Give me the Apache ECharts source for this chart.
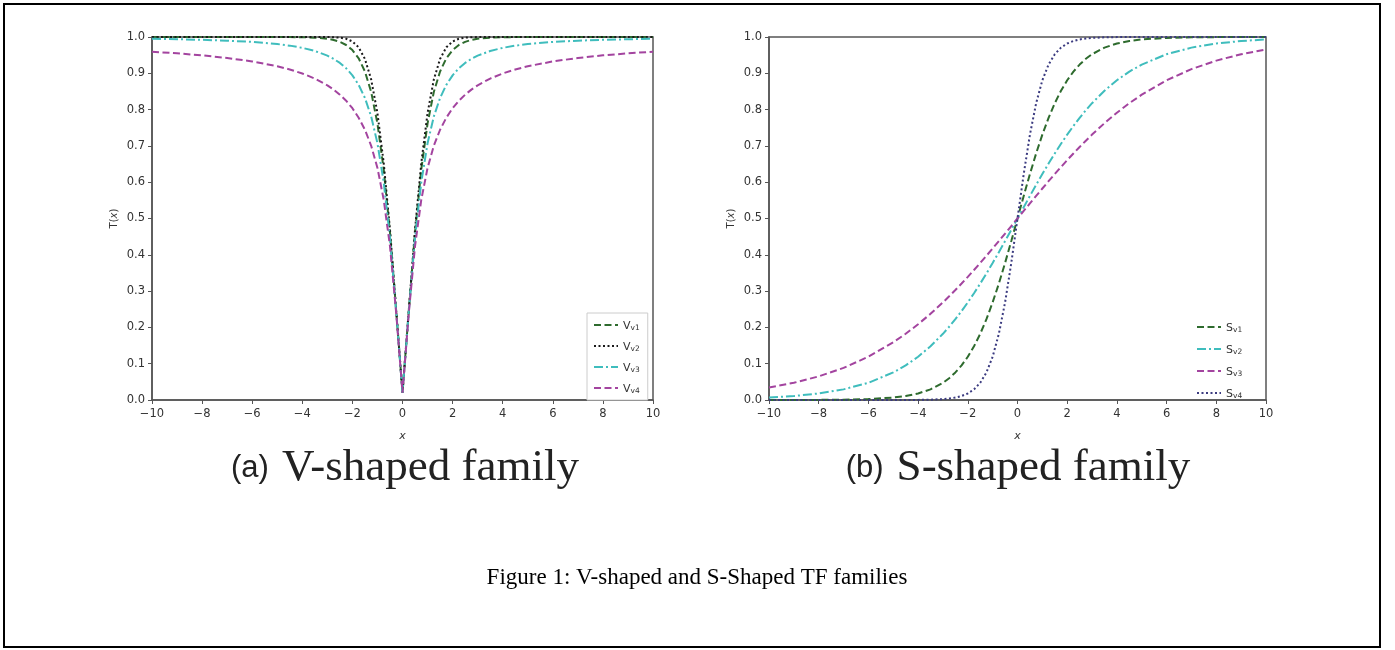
<!DOCTYPE html>
<html><head><meta charset="utf-8">
<script src="https://cdn.jsdelivr.net/npm/echarts@6/dist/echarts.min.js"></script>
<style>html,body{margin:0;padding:0;background:#fff}#c{width:1395px;height:650px}</style>
</head><body><div id="c"></div>
<script>
// ---- data ----
const xValues = [-10,-9,-8,-7,-6,-5,-4.5,-4,-3.5,-3,-2.75,-2.5,-2.25,-2,-1.75,-1.5,-1.25,-1,-0.75,-0.5,-0.25,0,0.25,0.5,0.75,1,1.25,1.5,1.75,2,2.25,2.5,2.75,3,3.5,4,4.5,5,6,7,8,9,10];

const vV1 = [1,1,1,1,1,0.9999,0.9998,0.9993,0.9982,0.9951,0.9919,0.9866,0.9780,0.9640,0.9414,0.9051,0.8483,0.7616,0.6351,0.4621,0.2449,0.02,0.2449,0.4621,0.6351,0.7616,0.8483,0.9051,0.9414,0.9640,0.9780,0.9866,0.9919,0.9951,0.9982,0.9993,0.9998,0.9999,1,1,1,1,1];
const vV2 = [1,1,1,1,1,1,1,1,1,0.9998,0.9994,0.9982,0.9952,0.9877,0.9716,0.9397,0.8828,0.7899,0.6528,0.4691,0.2460,0.02,0.2460,0.4691,0.6528,0.7899,0.8828,0.9397,0.9716,0.9877,0.9952,0.9982,0.9994,0.9998,1,1,1,1,1,1,1,1,1];
const vV3 = [0.9950,0.9939,0.9923,0.9899,0.9864,0.9806,0.9762,0.9701,0.9615,0.9487,0.9398,0.9285,0.9138,0.8944,0.8682,0.8321,0.7809,0.7071,0.6000,0.4472,0.2425,0.02,0.2425,0.4472,0.6000,0.7071,0.7809,0.8321,0.8682,0.8944,0.9138,0.9285,0.9398,0.9487,0.9615,0.9701,0.9762,0.9806,0.9864,0.9899,0.9923,0.9939,0.9950];
const vV4 = [0.9595,0.9550,0.9494,0.9422,0.9327,0.9194,0.9106,0.8995,0.8855,0.8669,0.8551,0.8411,0.8245,0.8038,0.7777,0.7445,0.7003,0.6391,0.5518,0.4239,0.2386,0.02,0.2386,0.4239,0.5518,0.6391,0.7003,0.7445,0.7777,0.8038,0.8245,0.8411,0.8551,0.8669,0.8855,0.8995,0.9106,0.9194,0.9327,0.9422,0.9494,0.9550,0.9595];

const sV1 = [0.0000,0.0001,0.0003,0.0009,0.0025,0.0067,0.0110,0.0180,0.0293,0.0474,0.0601,0.0759,0.0953,0.1192,0.1481,0.1824,0.2227,0.2689,0.3208,0.3775,0.4378,0.5,0.5622,0.6225,0.6792,0.7311,0.7773,0.8176,0.8519,0.8808,0.9047,0.9241,0.9399,0.9526,0.9707,0.9820,0.9890,0.9933,0.9975,0.9991,0.9997,0.9999,1.0];
const sV2 = [0.0067,0.0110,0.0180,0.0293,0.0474,0.0759,0.0953,0.1192,0.1481,0.1824,0.2018,0.2227,0.2451,0.2689,0.2942,0.3208,0.3486,0.3775,0.4073,0.4378,0.4688,0.5,0.5312,0.5622,0.5927,0.6225,0.6514,0.6792,0.7058,0.7311,0.7549,0.7773,0.7982,0.8176,0.8519,0.8808,0.9047,0.9241,0.9526,0.9707,0.9820,0.9890,0.9933];
const sV3 = [0.0344,0.0474,0.0650,0.0884,0.1192,0.1589,0.1824,0.2086,0.2375,0.2689,0.2856,0.3029,0.3208,0.3392,0.3582,0.3775,0.3973,0.4174,0.4378,0.4584,0.4792,0.5,0.5208,0.5416,0.5622,0.5826,0.6027,0.6225,0.6418,0.6608,0.6792,0.6971,0.7144,0.7311,0.7625,0.7914,0.8176,0.8411,0.8808,0.9116,0.9350,0.9526,0.9656];
const sV4 = [0,0,0,0,0,0,0.0001,0.0003,0.0009,0.0025,0.0041,0.0067,0.0110,0.0180,0.0293,0.0474,0.0759,0.1192,0.1824,0.2689,0.3775,0.5,0.6225,0.7311,0.8176,0.8808,0.9241,0.9526,0.9707,0.9820,0.9890,0.9933,0.9959,0.9975,0.9991,0.9997,0.9999,1,1,1,1,1,1];

const xTicks = [-10,-8,-6,-4,-2,0,2,4,6,8,10];
const yTicks = [0,0.1,0.2,0.3,0.4,0.5,0.6,0.7,0.8,0.9,1.0];
const vNames = ['Vv1','Vv2','Vv3','Vv4'];
const sNames = ['Sv1','Sv2','Sv3','Sv4'];
const captionA = ['(a)', 'V-shaped family'];
const captionB = ['(b)', 'S-shaped family'];
const figureCaption = 'Figure 1: V-shaped and S-Shaped TF families';

// ---- chart ----
const chart = echarts.init(document.getElementById('c'), null, {renderer:'canvas'});
const pairs = ys => xValues.map((x,i)=>[x, ys[i]]);
const lbl = '#333';
const frame = '#555';
const FONT = 'DejaVu Sans';

function xAxisCfg(gi){
  return {
    type:'value', gridIndex:gi, min:xTicks[0], max:xTicks[xTicks.length-1], interval:xTicks[1]-xTicks[0],
    name:'{i|x}', nameLocation:'middle', nameGap:31,
    nameTextStyle:{rich:{i:{fontStyle:'italic', fontFamily:FONT, fontSize:11, color:lbl}}},
    axisLine:{show:true, onZero:false, lineStyle:{color:frame, width:1.5}},
    axisTick:{show:true, length:4, lineStyle:{color:frame}},
    axisLabel:{color:lbl, fontFamily:FONT, fontSize:11.5, margin:8,
      formatter:v=> v<0 ? '\u2212'+Math.abs(v) : String(v)},
    splitLine:{show:false}
  };
}
function yAxisCfg(gi){
  return {
    type:'value', gridIndex:gi, min:yTicks[0], max:yTicks[yTicks.length-1], interval:0.1,
    name:'{n|T(}{i|x}{n|)}', nameLocation:'middle', nameGap:33, nameRotate:90,
    nameTextStyle:{rich:{n:{fontFamily:FONT, fontSize:10, color:lbl}, i:{fontFamily:FONT, fontStyle:'italic', fontSize:10, color:lbl}}},
    axisLine:{show:true, onZero:false, lineStyle:{color:frame, width:1.5}},
    axisTick:{show:true, length:4, lineStyle:{color:frame}},
    axisLabel:{color:lbl, fontFamily:FONT, fontSize:11.5, margin:7, formatter:v=>v.toFixed(1)},
    splitLine:{show:false}
  };
}
const styles = {
  green:  {color:'#2e6b2e', type:[7,3.5]},
  black:  {color:'#1a1a1a', type:[2,2.5]},
  cyan:   {color:'#3fbdbd', type:[9,3,2,3]},
  magenta:{color:'#a3449f', type:[7,3.5]},
  navy:   {color:'#3b3b80', type:[2,2.5]}
};
function ser(name, ys, st, gi){
  return {name, type:'line', xAxisIndex:gi, yAxisIndex:gi, data:pairs(ys), symbol:'none', smooth:false,
    lineStyle:{color:st.color, width:2, type:st.type}, itemStyle:{color:st.color}, clip:true, animation:false};
}
const legendFmt = n => '{m|'+n[0]+'}{s|'+n.slice(1)+'}';
const legendRich = {m:{fontFamily:FONT, fontSize:11, color:lbl, verticalAlign:'bottom'}, s:{fontFamily:FONT, fontSize:7.5, color:lbl, verticalAlign:'bottom'}};
const hideSym = {opacity:0, color:'transparent', borderWidth:0};

chart.setOption({
  animation:false,
  backgroundColor:'#fff',
  grid:[
    {left:152, top:37, width:501, height:363, show:true, borderColor:frame, borderWidth:1.5},
    {left:769, top:37, width:497, height:363, show:true, borderColor:frame, borderWidth:1.5}
  ],
  xAxis:[xAxisCfg(0), xAxisCfg(1)],
  yAxis:[yAxisCfg(0), yAxisCfg(1)],
  legend:[
    {data:vNames, orient:'vertical', left:587, top:313, itemWidth:24, itemHeight:10, itemGap:7,
     padding:[5,8,5,6], borderColor:'#ccc', borderWidth:1, backgroundColor:'#fff', itemStyle:hideSym,
     textStyle:{lineHeight:14, rich:legendRich}, formatter:legendFmt},
    {data:sNames, orient:'vertical', left:1194, top:318, itemWidth:24, itemHeight:10, itemGap:8, itemStyle:hideSym,
     padding:[2,2,2,2], textStyle:{lineHeight:14, rich:legendRich}, formatter:legendFmt}
  ],
  series:[
    ser(vNames[0], vV1, styles.green, 0),
    ser(vNames[1], vV2, styles.black, 0),
    ser(vNames[2], vV3, styles.cyan, 0),
    ser(vNames[3], vV4, styles.magenta, 0),
    ser(sNames[0], sV1, styles.green, 1),
    ser(sNames[1], sV2, styles.cyan, 1),
    ser(sNames[2], sV3, styles.magenta, 1),
    ser(sNames[3], sV4, styles.navy, 1)
  ],
  graphic:[
    {type:'rect', shape:{x:4, y:4, width:1376, height:643}, style:{fill:null, stroke:'#000', lineWidth:2}, silent:true},
    {type:'text', style:{x:405, y:468, align:'center', verticalAlign:'middle',
      text:'{a|'+captionA[0]+'}{g|}{b|'+captionA[1]+'}',
      rich:{a:{fontFamily:'Liberation Sans', fontSize:31, fill:'#222'}, g:{width:13}, b:{fontFamily:'Liberation Serif', fontSize:45, fill:'#222'}}}},
    {type:'text', style:{x:1018, y:468, align:'center', verticalAlign:'middle',
      text:'{a|'+captionB[0]+'}{g|}{b|'+captionB[1]+'}',
      rich:{a:{fontFamily:'Liberation Sans', fontSize:31, fill:'#222'}, g:{width:13}, b:{fontFamily:'Liberation Serif', fontSize:45, fill:'#222'}}}},
    {type:'text', style:{x:697, y:578, align:'center', verticalAlign:'middle', text:figureCaption,
      fontFamily:'Liberation Serif', fontSize:23, fill:'#000'}}
  ]
});
</script></body></html>
